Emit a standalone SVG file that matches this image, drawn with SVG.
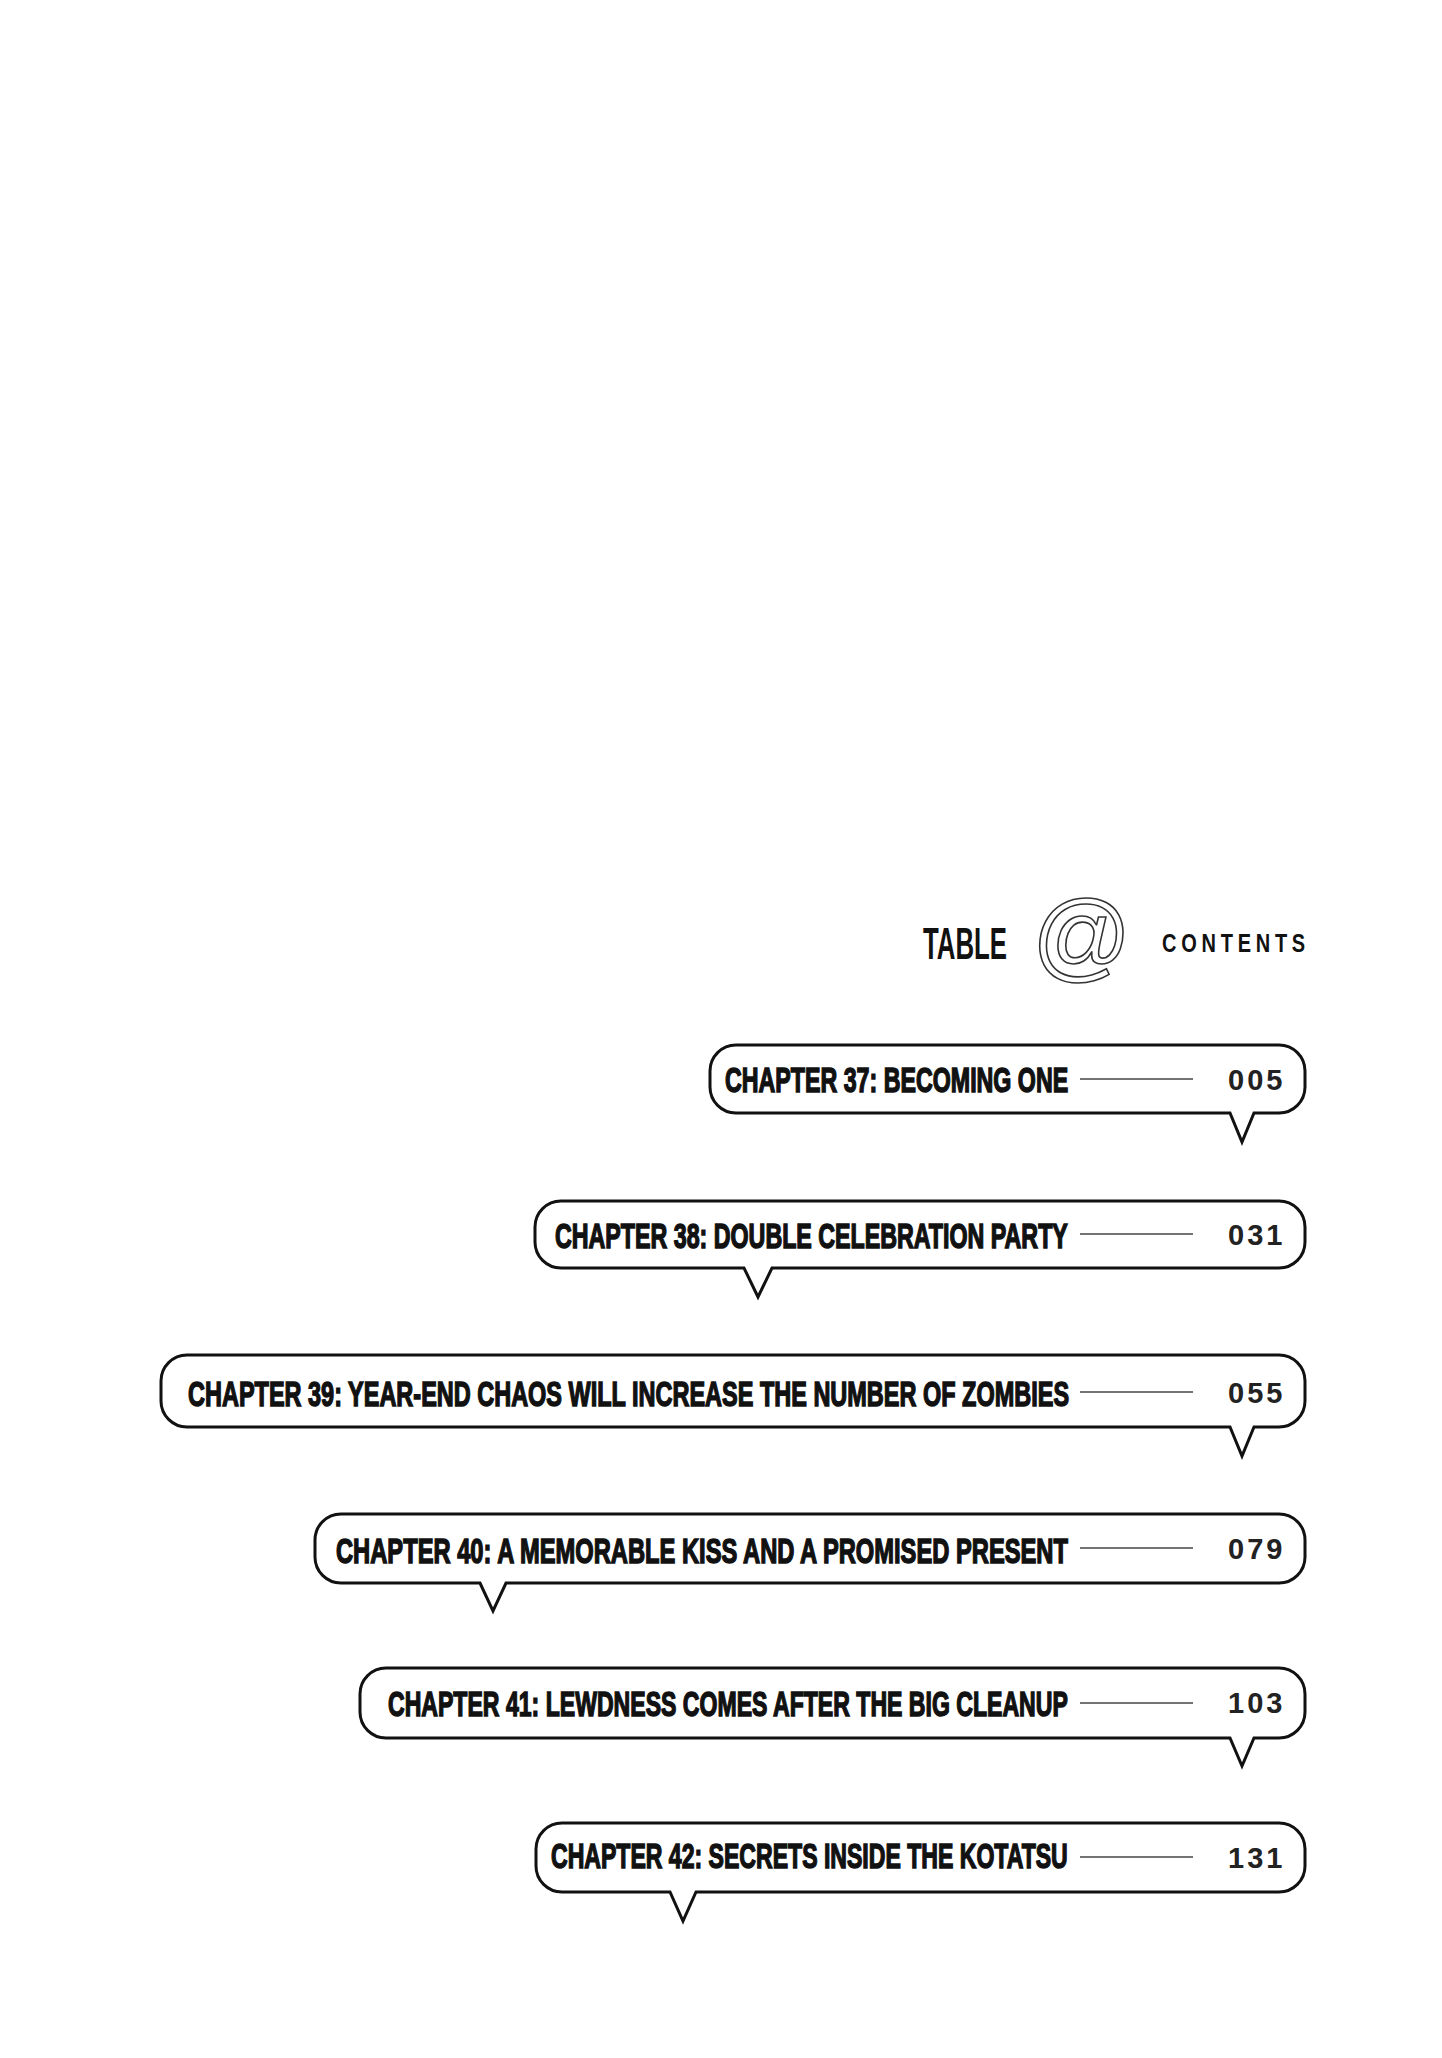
<svg xmlns="http://www.w3.org/2000/svg" width="1442" height="2058" viewBox="0 0 1442 2058">
<style>
.bubble{fill:#fff;stroke:#111;stroke-width:3;stroke-linejoin:miter}
.title{font-family:"Liberation Sans",Arial,sans-serif;font-weight:bold;font-size:35px;fill:#111;stroke:#111;stroke-width:1.5}
.num{font-family:"Liberation Sans",Arial,sans-serif;font-weight:bold;font-size:29px;fill:#222;letter-spacing:3px}
.rule{stroke:#444;stroke-width:1.6}
.head{font-family:"Liberation Sans",Arial,sans-serif;font-weight:bold;fill:#111}
</style>
<rect width="1442" height="2058" fill="#fff"/>
<g id="header">
<text class="head" transform="matrix(0.6 0 0 1 923 959)" font-size="44" textLength="140" lengthAdjust="spacingAndGlyphs">TABLE</text>
<text x="1032" y="969" font-family="'Liberation Sans',Arial,sans-serif" font-size="98" fill="#fff" stroke="#333" stroke-width="1.6">@</text>
<text class="head" transform="matrix(0.8 0 0 1 1162 952)" font-size="25" textLength="179" lengthAdjust="spacing">CONTENTS</text>
</g>
<g id="ch37">
<path class="bubble" d="M736,1045 H1279 A26 26 0 0 1 1305,1071 V1087 A26 26 0 0 1 1279,1113 H1254 L1242,1142 L1230,1113 H736 A26 26 0 0 1 710,1087 V1071 A26 26 0 0 1 736,1045 Z"/>
<text class="title" transform="matrix(0.66 0 0 1 725 1092)" textLength="520" lengthAdjust="spacingAndGlyphs">CHAPTER 37: BECOMING ONE</text>
<text class="num" x="1228" y="1090">005</text>
</g>
<g id="ch38">
<path class="bubble" d="M561,1201 H1279 A26 26 0 0 1 1305,1227 V1242 A26 26 0 0 1 1279,1268 H772 L758,1297 L744,1268 H561 A26 26 0 0 1 535,1242 V1227 A26 26 0 0 1 561,1201 Z"/>
<text class="title" transform="matrix(0.66 0 0 1 555 1248)" textLength="777" lengthAdjust="spacingAndGlyphs">CHAPTER 38: DOUBLE CELEBRATION PARTY</text>
<text class="num" x="1228" y="1245">031</text>
</g>
<g id="ch39">
<path class="bubble" d="M187,1355 H1279 A26 26 0 0 1 1305,1381 V1401 A26 26 0 0 1 1279,1427 H1254 L1242,1456 L1230,1427 H187 A26 26 0 0 1 161,1401 V1381 A26 26 0 0 1 187,1355 Z"/>
<text class="title" transform="matrix(0.66 0 0 1 188 1406)" textLength="1335" lengthAdjust="spacingAndGlyphs">CHAPTER 39: YEAR-END CHAOS WILL INCREASE THE NUMBER OF ZOMBIES</text>
<text class="num" x="1228" y="1403">055</text>
</g>
<g id="ch40">
<path class="bubble" d="M341,1514 H1279 A26 26 0 0 1 1305,1540 V1557 A26 26 0 0 1 1279,1583 H506 L493,1611 L480,1583 H341 A26 26 0 0 1 315,1557 V1540 A26 26 0 0 1 341,1514 Z"/>
<text class="title" transform="matrix(0.66 0 0 1 336 1563)" textLength="1109" lengthAdjust="spacingAndGlyphs">CHAPTER 40: A MEMORABLE KISS AND A PROMISED PRESENT</text>
<text class="num" x="1228" y="1559">079</text>
</g>
<g id="ch41">
<path class="bubble" d="M386,1668 H1279 A26 26 0 0 1 1305,1694 V1712 A26 26 0 0 1 1279,1738 H1254 L1242,1766 L1230,1738 H386 A26 26 0 0 1 360,1712 V1694 A26 26 0 0 1 386,1668 Z"/>
<text class="title" transform="matrix(0.66 0 0 1 388 1716)" textLength="1030" lengthAdjust="spacingAndGlyphs">CHAPTER 41: LEWDNESS COMES AFTER THE BIG CLEANUP</text>
<text class="num" x="1228" y="1713">103</text>
</g>
<g id="ch42">
<path class="bubble" d="M562,1823 H1279 A26 26 0 0 1 1305,1849 V1866 A26 26 0 0 1 1279,1892 H696 L683,1921 L670,1892 H562 A26 26 0 0 1 536,1866 V1849 A26 26 0 0 1 562,1823 Z"/>
<text class="title" transform="matrix(0.66 0 0 1 551 1868)" textLength="783" lengthAdjust="spacingAndGlyphs">CHAPTER 42: SECRETS INSIDE THE KOTATSU</text>
<text class="num" x="1228" y="1868">131</text>
</g>
<g id="connectors">
<line class="rule" x1="1080" y1="1079" x2="1193" y2="1079"/>
<line class="rule" x1="1080" y1="1234" x2="1193" y2="1234"/>
<line class="rule" x1="1080" y1="1392" x2="1193" y2="1392"/>
<line class="rule" x1="1080" y1="1548" x2="1193" y2="1548"/>
<line class="rule" x1="1080" y1="1703" x2="1193" y2="1703"/>
<line class="rule" x1="1080" y1="1857" x2="1193" y2="1857"/>
</g>
</svg>
